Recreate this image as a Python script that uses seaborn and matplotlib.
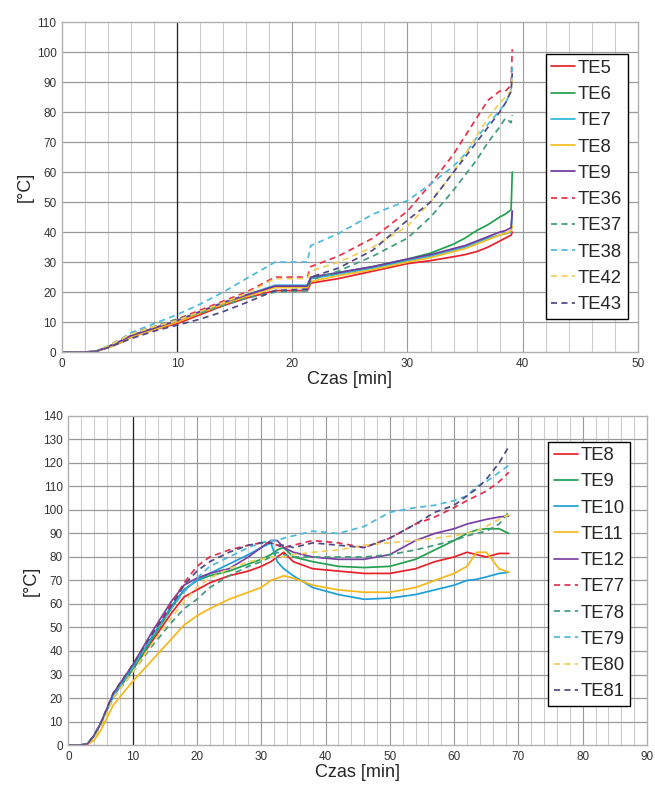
import numpy as np
import pandas as pd
import matplotlib
matplotlib.use("Agg")
import matplotlib.pyplot as plt
import seaborn as sns

# --- top chart: time [min] and temperatures [degC]
czas_a = [0, 2, 3, 4, 5, 6, 8, 10, 12, 14, 16, 18.5, 21.3, 21.6, 24, 27, 30,
          32, 34, 35, 36, 37, 38, 38.5, 39, 39.1]
te5 = [0, 0, 0.3, 1.5, 3, 5, 7.5, 9.5, 12.5, 15.5, 18, 20.5, 20.5, 23, 24.5, 27, 29.5,
       30.5, 31.8, 32.5, 33.5, 35, 37, 38, 39, 40]
te6 = [0, 0, 0.3, 1.8, 3.5, 5.5, 8, 10.5, 13.5, 16.5, 19, 22, 22, 24.5, 26.5, 28.5, 31,
       33, 36, 38, 40.5, 42.5, 45, 46, 47.5, 60]
te7 = [0, 0, 0.3, 1.8, 3.5, 5.5, 8, 10.5, 13.5, 16.5, 19, 22.3, 22.3, 24.5, 26, 28, 30.5,
       32, 34, 35, 36.5, 38, 39, 39.5, 40, 47]
te8a = [0, 0, 0.3, 1.5, 3, 5, 7.5, 10, 13, 16, 18.5, 21.5, 21.5, 23.5, 25.5, 27.5, 30,
        31.5, 33.5, 34.5, 36, 37.5, 39, 39.5, 40.5, 42]
te9a = [0, 0, 0.3, 1.8, 3.5, 5.5, 8, 10.5, 13.5, 16.5, 19, 22, 22, 25, 26.5, 28.5, 31,
        32.5, 34.5, 35.5, 37, 38.5, 40, 40.5, 41.5, 47]
te36 = [0, 0, 0.3, 2, 4, 6, 8.5, 11, 14, 17, 20, 25, 25, 28.5, 32, 38, 47,
        56, 66, 72, 78, 84, 87, 87, 89, 101]
te37 = [0, 0, 0.3, 2, 4, 6, 8.5, 11, 13, 15.5, 18, 20, 20.5, 24, 27, 32, 38,
        45, 54, 59, 64, 70, 75, 78, 76.5, 79]
te38 = [0, 0, 0.3, 2, 4, 6.5, 9.5, 12.5, 16, 20, 24.5, 30, 30, 35.5, 39.5, 46, 50.5,
        56, 62, 66, 71.5, 76, 80.5, 83, 87, 95]
te42 = [0, 0, 0.3, 2, 4, 6, 8.5, 10.5, 13.5, 16.5, 19.5, 24.5, 24.5, 27, 30, 35, 42,
        50, 60, 66, 72, 78, 83, 85, 87, 92]
te43 = [0, 0, 0.3, 1.5, 3, 4.5, 7, 9, 11, 13.5, 16.5, 20.5, 21, 25, 28, 34, 44,
        50, 60, 65, 70, 75, 80, 83, 87, 93]

# --- bottom chart
czas_b = [0, 2, 3, 4, 5, 7, 10, 13, 16, 18, 20, 22, 25, 28, 30, 31.5, 32.5, 33.5,
          35, 38, 42, 46, 50, 54, 57, 60, 62, 63.5, 65, 67, 68.5]
te8b = [0, 0, 0.5, 4, 9, 21, 32, 44, 56, 63, 66, 69, 72, 74, 76, 78, 80, 82,
        78, 75, 74, 73, 73, 75, 78, 80, 82, 81, 80, 81.5, 81.5]
te9b = [0, 0, 0.5, 4, 9, 21, 32, 45, 58, 66, 70, 72, 74, 77, 79, 81, 83, 84,
        80, 78, 76, 75.5, 76, 79, 83, 87, 90, 91.5, 92, 92, 90]
te10 = [0, 0, 0.5, 4, 9, 21, 33, 46, 59, 66, 70, 73, 77, 81, 84, 86, 78, 75,
        72, 67, 64, 62, 62.5, 64, 66, 68, 70, 70.5, 71.5, 73, 73.5]
te11 = [0, 0, 0.3, 2, 6, 17, 27, 36, 45, 51, 55, 58, 62, 65, 67, 70, 71, 72,
        71, 68, 66, 65, 65, 67, 70, 73, 76, 82, 82, 75, 73.5]
te12 = [0, 0, 0.5, 4, 9, 22, 34, 48, 61, 68, 71, 73, 75, 80, 84, 87, 87, 84,
        82, 80, 79, 79, 81, 87, 90, 92, 94, 95, 96, 97, 97.5]
te77 = [0, 0, 0.5, 4, 9, 22, 34, 47, 60, 69, 76, 80, 83, 85, 86, 86, 85, 84,
        85, 87, 86, 84, 88, 94, 97, 101, 104, 106, 108, 112, 116]
te78 = [0, 0, 0.5, 3.5, 8, 20, 31, 42, 52, 58, 62, 67, 72, 76, 78, 80, 82, 81,
        80, 80, 80, 80, 81, 83, 85, 87, 89, 90, 91, 94, 99]
te79 = [0, 0, 0.5, 4, 9, 21, 33, 46, 58, 65, 71, 76, 80, 84, 86, 87, 87, 88,
        89, 91, 90, 93, 99, 101, 102, 104, 106, 110, 112, 116, 119]
te80 = [0, 0, 0.3, 3, 8, 20, 31, 43, 54, 61, 67, 71, 75, 78, 79, 80, 80, 80,
        81, 82, 83, 85, 86, 87, 88, 89, 90, 91, 93, 96, 98]
te81 = [0, 0, 0.5, 4, 9, 22, 34, 47, 59, 68, 74, 78, 82, 85, 86, 86, 85, 85,
        84, 86, 85, 84, 88, 94, 99, 102, 106, 109, 113, 120, 127]

names_a = ["TE5", "TE6", "TE7", "TE8", "TE9", "TE36", "TE37", "TE38", "TE42", "TE43"]
vals_a = [te5, te6, te7, te8a, te9a, te36, te37, te38, te42, te43]
names_b = ["TE8", "TE9", "TE10", "TE11", "TE12", "TE77", "TE78", "TE79", "TE80", "TE81"]
vals_b = [te8b, te9b, te10, te11, te12, te77, te78, te79, te80, te81]

kolory = ["#e8202a", "#22a04e", "#2bb6d8", "#f5bd1f", "#7038a0",
          "#e8304a", "#3f9a7e", "#4cb9dc", "#f2cf5a", "#4e4a86"]
kolory_b = ["#e8202a", "#22a04e", "#1c9fd8", "#f5b71a", "#7a3fa2",
            "#e03050", "#3f9a7e", "#4cb9dc", "#f2cf5a", "#4e4a86"]


def long_df(czas, names, vals):
    rows = []
    for n, v in zip(names, vals):
        rows.append(pd.DataFrame({"Czas": czas, "T": v, "czujnik": n}))
    return pd.concat(rows, ignore_index=True)


sns.set_style("white")
plt.rcParams["font.family"] = ["Liberation Sans", "DejaVu Sans"]

fig = plt.figure(figsize=(6.55, 7.93), dpi=100)
ax1 = fig.add_axes([0.0947, 0.556, 0.879, 0.416])
ax2 = fig.add_axes([0.1043, 0.0605, 0.8835, 0.415])


def draw(ax, czas, names, vals, cols, xmax, ymax, leg_xy):
    df = long_df(czas, names, vals)
    pal = dict(zip(names, cols))
    dash = {n: ("" if i < 5 else (3.5, 2.5)) for i, n in enumerate(names)}
    sns.lineplot(data=df, x="Czas", y="T", hue="czujnik", style="czujnik",
                 palette=pal, dashes=dash, hue_order=names, style_order=names,
                 estimator=None, sort=False, lw=1.25, ax=ax)
    ax.set_xlim(0, xmax)
    ax.set_ylim(0, ymax)
    ax.set_xticks(np.arange(0, xmax + 1, 10))
    ax.set_yticks(np.arange(0, ymax + 1, 10))
    for x in np.arange(2, xmax, 2):
        ax.axvline(x, color="#cccccc" if x % 10 else "#9a9a9a", lw=0.8, zorder=0)
    for y in np.arange(10, ymax, 10):
        ax.axhline(y, color="#9a9a9a", lw=0.9, zorder=0)
    ax.axvline(10, color="#222222", lw=0.9, zorder=0)
    for s in ax.spines.values():
        s.set_color("#b0b0b0")
        s.set_linewidth(1.0)
    ax.tick_params(length=0, labelsize=8.5, labelcolor="#333333", pad=4)
    ax.set_xlabel("Czas [min]", fontsize=13, labelpad=1)
    ax.set_ylabel("[°C]", fontsize=13, labelpad=2)
    h, l = ax.get_legend_handles_labels()
    leg = ax.legend(h, l, loc="upper left", bbox_to_anchor=leg_xy,
                    bbox_transform=fig.transFigure, fontsize=13.3, frameon=True,
                    fancybox=False, edgecolor="black", framealpha=1,
                    handlelength=1.3, handletextpad=0.15, labelspacing=0.5,
                    borderpad=0.3, borderaxespad=0)
    leg.get_frame().set_linewidth(1.0)


draw(ax1, czas_a, names_a, vals_a, kolory, 50, 110, (0.833, 0.9315))
draw(ax2, czas_b, names_b, vals_b, kolory_b, 90, 140, (0.837, 0.443))

fig.savefig("out.png", dpi=100)
